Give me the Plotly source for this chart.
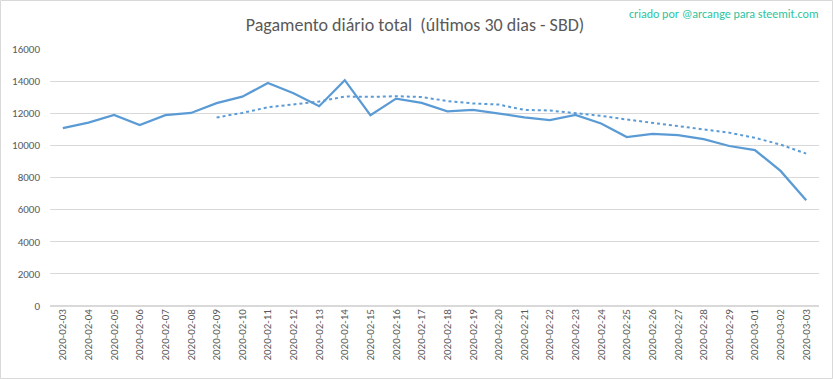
import plotly.graph_objects as go

dates = ["2020-02-03","2020-02-04","2020-02-05","2020-02-06","2020-02-07","2020-02-08",
         "2020-02-09","2020-02-10","2020-02-11","2020-02-12","2020-02-13","2020-02-14",
         "2020-02-15","2020-02-16","2020-02-17","2020-02-18","2020-02-19","2020-02-20",
         "2020-02-21","2020-02-22","2020-02-23","2020-02-24","2020-02-25","2020-02-26",
         "2020-02-27","2020-02-28","2020-02-29","2020-03-01","2020-03-02","2020-03-03"]

payout = [11070, 11420, 11900, 11260, 11880, 12020, 12630, 13030, 13880, 13250,
          12440, 14060, 11880, 12910, 12650, 12120, 12210, 11960, 11750, 11570,
          11900, 11360, 10520, 10720, 10640, 10390, 9960, 9710, 8410, 6580]

ma_dates = dates[6:]
moving_avg = [11740, 12020, 12370, 12560, 12730, 13040, 13020, 13060, 13010, 12760,
              12610, 12540, 12210, 12170, 12020, 11840, 11610, 11400, 11210, 11010,
              10790, 10470, 10050, 9490]

yticks = [0, 2000, 4000, 6000, 8000, 10000, 12000, 14000, 16000]

blue = "#5b9bd5"
fig = go.Figure()
fig.add_trace(go.Scatter(x=dates, y=payout, mode="lines",
                         line=dict(color=blue, width=2.25), showlegend=False))
fig.add_trace(go.Scatter(x=ma_dates, y=moving_avg, mode="lines",
                         line=dict(color=blue, width=2, dash="dot"), showlegend=False))

W, H = 833, 379
ml, mr, mt, mb = 50, 14, 49, 73
pw, ph = W - ml - mr, H - mt - mb

fig.update_layout(
    width=W, height=H,
    margin=dict(l=ml, r=mr, t=mt, b=mb, autoexpand=False),
    paper_bgcolor="white", plot_bgcolor="white",
    font=dict(family="Carlito, Calibri, Lato, sans-serif", color="#595959"),
    title=dict(text="Pagamento diário total  (últimos 30 dias - SBD)",
               x=415 / W, xanchor="center", y=1 - 25 / H, yanchor="middle",
               font=dict(size=18, color="#595959")),
    xaxis=dict(type="category", categoryorder="array", categoryarray=dates,
               range=[-0.5, len(dates) - 0.5], tickangle=-90,
               tickfont=dict(size=11, color="#595959"), showgrid=False,
               showline=False, zeroline=False, ticks="", automargin=False),
    yaxis=dict(range=[0, 16000], tickvals=yticks, ticktext=[str(v) for v in yticks],
               tickfont=dict(size=11, color="#595959"), gridcolor="#d9d9d9",
               gridwidth=1, zeroline=True, zerolinecolor="#d9d9d9", showline=False,
               ticks="", ticklabelstandoff=9, automargin=False),
    annotations=[dict(text="criado por @arcange para steemit.com", xref="paper", yref="paper",
                      x=(W - 12 - ml) / pw, y=1 + 35 / ph, xanchor="right", yanchor="middle",
                      showarrow=False, font=dict(size=12, color="#2cc4a0"))],
    shapes=[dict(type="rect", xref="paper", yref="paper",
                 x0=-(ml - 0.5) / pw, x1=1 + (mr - 0.5) / pw,
                 y0=-(mb - 0.5) / ph, y1=1 + (mt - 0.5) / ph,
                 line=dict(color="#d9d9d9", width=1), fillcolor="rgba(0,0,0,0)", layer="below")],
)

fig.write_html("out.html", config={"displayModeBar": False},
               post_script="document.body.style.margin='0';")
